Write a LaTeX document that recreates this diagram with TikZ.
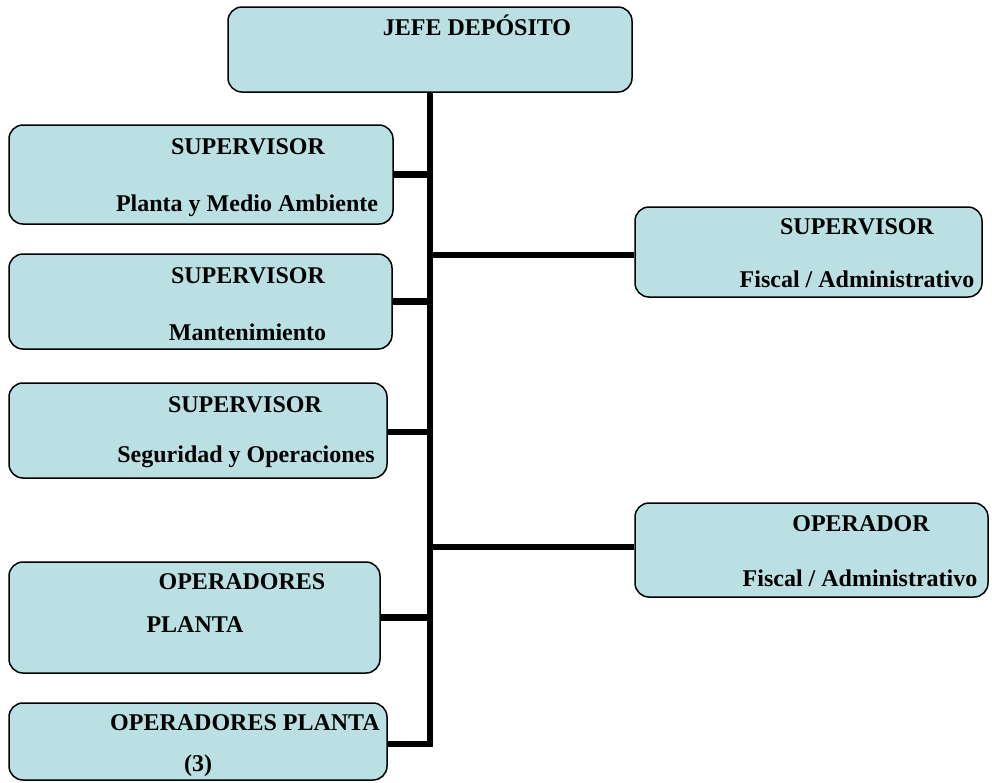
\documentclass[tikz,border=0pt]{standalone}
\usepackage{fontspec}
\setmainfont{Liberation Serif}
\definecolor{boxfill}{RGB}{186,224,227}
\begin{document}
\begin{tikzpicture}[x=1pt,y=-1pt,
  orgbox/.style={draw=black, line width=1.5pt, fill=boxfill, rounded corners=14pt, inner sep=0pt},
  lbl/.style={anchor=base, inner sep=0pt, font=\fontsize{24}{28}\selectfont\bfseries},
  conn/.style={line width=6.5pt, line join=miter, line cap=butt}]
\useasboundingbox (0,0) rectangle (992,782);
% boxes
\node[orgbox, minimum width=404pt, minimum height=85pt] (top) at (430,49.5) {};
\node[orgbox, minimum width=384pt, minimum height=99pt] (b1) at (201,174.5) {};
\node[orgbox, minimum width=383pt, minimum height=95pt] (b2) at (200.5,301.5) {};
\node[orgbox, minimum width=378pt, minimum height=95pt] (b3) at (198,430.5) {};
\node[orgbox, minimum width=371pt, minimum height=111pt] (b4) at (194.5,617.5) {};
\node[orgbox, minimum width=378pt, minimum height=77pt] (b5) at (198,741.5) {};
\node[orgbox, minimum width=347pt, minimum height=90pt] (r1) at (808.5,252) {};
\node[orgbox, minimum width=353pt, minimum height=94pt] (r2) at (811.5,550) {};
% connectors
\coordinate (tb) at (430,744);
\draw[conn] (top.south) -- (tb) -- (tb -| b5.east);
\draw[conn] (b1.east) -- (b1.east -| tb);
\draw[conn] (b2.east) -- (b2.east -| tb);
\draw[conn] ([yshift=-1.5pt]b3.east) -- ([yshift=-1.5pt]b3.east -| tb);
\draw[conn] (b4.east) -- (b4.east -| tb);
\draw[conn] ([yshift=-3pt]r1.west -| tb) -- ([yshift=-3pt]r1.west);
\draw[conn] ([yshift=3pt]r2.west -| tb) -- ([yshift=3pt]r2.west);
% labels
\node[lbl] (t0) at (477,35) {JEFE DEPÓSITO};
\node[lbl] (t1a) at (248,154) {SUPERVISOR};
\node[lbl] (t1b) at (247,211) {Planta y Medio Ambiente};
\node[lbl] (t2a) at (248,283) {SUPERVISOR};
\node[lbl] (t2b) at (247.5,340) {Mantenimiento};
\node[lbl] (t3a) at (245,412) {SUPERVISOR};
\node[lbl] (t3b) at (246,462) {Seguridad y Operaciones};
\node[lbl] (t4a) at (242,589) {OPERADORES};
\node[lbl] (t4b) at (195,632) {PLANTA};
\node[lbl] (t5a) at (245,730) {OPERADORES PLANTA};
\node[lbl] (t5b) at (198,771) {(3)};
\node[lbl] (r1a) at (857,234) {SUPERVISOR};
\node[lbl] (r1b) at (857,287) {Fiscal / Administrativo};
\node[lbl] (r2a) at (861,531) {OPERADOR};
\node[lbl] (r2b) at (860,586) {Fiscal / Administrativo};
\end{tikzpicture}
\end{document}
